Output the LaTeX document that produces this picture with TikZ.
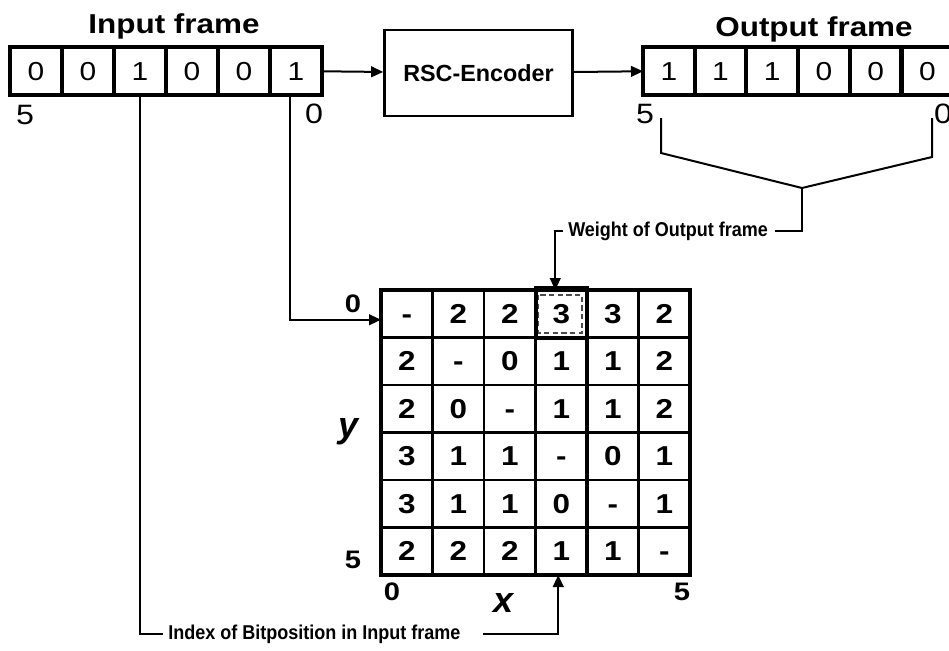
\documentclass[tikz,border=0pt]{standalone}
\usepackage{fontspec}
\setmainfont{Liberation Sans}
\newfontfamily\widesans{Liberation Sans}[FakeStretch=1.15]
\newfontfamily\narrowsans{Liberation Sans}[FakeStretch=0.9]
\usetikzlibrary{arrows.meta,positioning}

\begin{document}
\begin{tikzpicture}[x=0.75pt,y=-0.75pt,
    conn/.style={line width=1.5pt},
    arrowed/.style={-{Triangle[length=9pt,width=8pt]}},
    bitcell/.style={draw,line width=3pt,minimum width=39pt,minimum height=36pt,
      inner sep=0pt,outer sep=0pt,text height=14pt,text depth=0pt,
      font=\widesans\fontsize{19.5}{22}\selectfont},
    wcell/.style={draw,line width=2pt,minimum width=38.625pt,minimum height=35.625pt,
      inner sep=0pt,outer sep=0pt,text height=14.6pt,text depth=0pt,
      font=\widesans\bfseries\fontsize{20.5}{24}\selectfont},
    frametitle/.style={font=\widesans\bfseries\fontsize{20.5}{24}\selectfont},
    poslabel/.style={inner sep=0pt,font=\widesans\fontsize{21}{24}\selectfont},
    wlabel/.style={inner sep=0pt,font=\widesans\bfseries\fontsize{19}{22}\selectfont},
    axislabel/.style={inner sep=0pt,font=\bfseries\itshape\fontsize{27}{30}\selectfont},
    note/.style={inner sep=0pt,font=\narrowsans\bfseries\fontsize{15}{18}\selectfont},
    encbox/.style={draw,line width=2pt,minimum width=141pt,minimum height=64.5pt,
      font=\bfseries\fontsize{17.5}{20}\selectfont}]
\fill[white] (0,0) rectangle (949,650);
\useasboundingbox (0,0) rectangle (949,650);

% input frame, bit 5 on the left
\foreach \v [count=\i from 0] in {0,0,1,0,0,1}{
  \pgfmathtruncatemacro\k{5-\i}
  \node[bitcell] (in-\k) at (36+52*\i,71) {\v};
}
\node[frametitle,anchor=base] (intitle) at (174,33) {Input frame};
\node[poslabel] (in-hi) at (25,115) {5};
\node[poslabel] (in-lo) at (314,114) {0};

\node[encbox] (enc) at (478.5,73) {RSC-Encoder};

% output frame
\foreach \v [count=\i from 0] in {1,1,1,0,0,0}{
  \pgfmathtruncatemacro\k{5-\i}
  \node[bitcell,minimum width=38.8pt] (out-\k) at (668.85+51.7*\i,71) {\v};
}
\node[frametitle,anchor=base] (outtitle) at (814,36) {Output frame};
\node[poslabel] (out-hi) at (645,114) {5};
\node[poslabel] (out-lo) at (943,114) {0};

\draw[conn,arrowed] (in-0) -- (enc);
\draw[conn,arrowed] (enc) -- (out-5);

% bracket over the output bits
\coordinate (br-l) at (661,118);
\coordinate (br-r) at (932,118);
\coordinate (br-m) at (802,188);
\draw[conn] (br-l) -- ++(0,35) -- (br-m) -- (932,157) -- (br-r);

% weight table, row y, column x
\foreach \row [count=\rw from 0] in {{-,2,2,3,3,2},{2,-,0,1,1,2},{2,0,-,1,1,2},
    {3,1,1,-,0,1},{3,1,1,0,-,1},{2,2,2,1,1,-}}
  \foreach \v [count=\cl from 0] in \row
    \node[wcell] (m-\rw-\cl) at (406.75+51.5*\cl,313.75+47.5*\rw) {\v};
\draw[line width=3pt] (m-0-0.north west) rectangle (m-5-5.south east);
\draw[line width=2.6pt] (m-0-3.north west) -- (m-5-3.south west)
  (m-0-3.north east) -- (m-5-3.south east);
\draw[line width=3pt] ([shift={(0,-2)}]m-0-3.north west) rectangle (m-0-3.south east);
\draw[line width=0.8pt,dash pattern=on 4pt off 2.5pt,black!70]
  ([shift={(3,5)}]m-0-3.north west) rectangle ([shift={(-5,-4.5)}]m-0-3.south east);

\node[wlabel] (row0) at (353,303.5) {0};
\node[wlabel] (row5) at (353,560) {5};
\node[wlabel] (col0) at (392,592) {0};
\node[wlabel] (col5) at (682,592) {5};
\node[axislabel] (ylab) at (349,432) {y};
\node[axislabel] (xlab) at (504,603) {x};

% bit 0 of the input picks the row
\draw[conn,arrowed] ([shift={(-6,0)}]in-0.south) |- ([shift={(0,6)}]m-0-0.west);

\node[note,anchor=west] (idx) at (168,634) {Index of Bitposition in Input frame};
\draw[conn] (in-3.south) |- ([shift={(-5,0)}]idx.west);
\draw[conn,arrowed] ([shift={(22,0)}]idx.east) -| ([shift={(-3,0)}]m-5-3.south);

\node[note,anchor=west] (wt) at (568,231) {Weight of Output frame};
\draw[conn] (br-m) |- ([shift={(7,0)}]wt.east);
\draw[conn,arrowed] ([shift={(-5,0)}]wt.west) -| ([shift={(-6,0)}]m-0-3.north);
\end{tikzpicture}
\end{document}
